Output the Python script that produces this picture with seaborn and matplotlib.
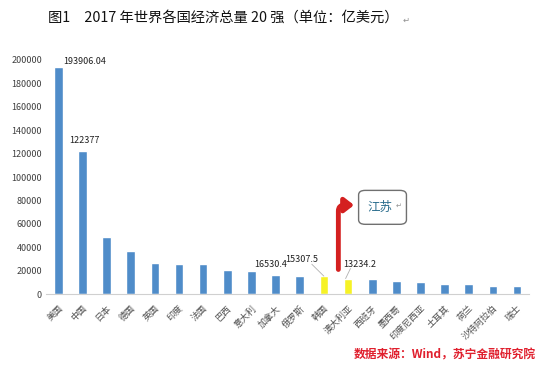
import seaborn as sns
import pandas as pd
import matplotlib.pyplot as plt
from matplotlib.patches import FancyBboxPatch

countries = ['美国', '中国', '日本', '德国', '英国', '印度', '法国', '巴西', '意大利', '加拿大',
             '俄罗斯', '韩国', '澳大利亚', '西班牙', '墨西哥', '印度尼西亚', '土耳其', '荷兰',
             '沙特阿拉伯', '瑞士']
gdp = [193906.04, 122377, 48721, 36774, 26224, 25975, 25825, 20555, 19348, 16530.4,
       15775, 15307.5, 13234.2, 13111, 11499, 10155, 8511, 8262, 6838, 6788]
highlight = ['韩国', '澳大利亚']
yticks = list(range(0, 200001, 20000))

sns.set_theme(style='white')
plt.rcParams['font.family'] = ['Noto Sans CJK SC', 'DejaVu Sans']

table = pd.DataFrame({'country': countries, 'gdp': gdp})
palette = {c: ('#F6F226' if c in highlight else '#4F8CC9') for c in countries}

fig = plt.figure(figsize=(5.5, 3.77), dpi=100)
ax = fig.add_axes([0.084, 0.22, 0.878, 0.621])
sns.barplot(data=table, x='country', y='gdp', hue='country', palette=palette,
            width=0.36, legend=False, saturation=1, ax=ax)

ax.set_ylim(0, 200000)
ax.set_xlim(-0.5, len(countries) - 0.5)
ax.set_yticks(yticks)
ax.set_yticklabels([str(v) for v in yticks], fontsize=6.5, color='#404040')
ax.set_xticks(range(len(countries)))
ax.set_xticklabels(countries, rotation=45, ha='right', va='top', rotation_mode='anchor',
                   fontsize=6.5, color='#505050')
ax.tick_params(axis='y', length=0, pad=3)
ax.tick_params(axis='x', length=0, pad=7)
ax.set_xlabel('')
ax.set_ylabel('')
for s in ['top', 'right', 'left']:
    ax.spines[s].set_visible(False)
ax.spines['bottom'].set_color('#d0d0d0')
ax.spines['bottom'].set_linewidth(0.8)

# value labels
lab = dict(fontsize=6.5, color='#202020')
ax.text(0.2, gdp[0] + 800, '193906.04', ha='left', va='bottom', **lab)
ax.text(1.1, gdp[1] + 5000, '122377', ha='center', va='bottom', **lab)
ax.text(8.8, gdp[9] + 5000, '16530.4', ha='center', va='bottom', **lab)
ax.text(10.1, 26000, '15307.5', ha='center', va='bottom', **lab)
ax.text(12.5, 21500, '13234.2', ha='center', va='bottom', **lab)
ax.plot([10.5, 11.0], [25500, gdp[11]], color='#b0b0b0', lw=0.6)
ax.plot([12.1, 11.9], [21800, gdp[12]], color='#b0b0b0', lw=0.6)

# red arrow to text box
ax.annotate('', xy=(12.25, 76000), xytext=(11.6, 21000),
            arrowprops=dict(arrowstyle='-|>,head_length=0.45,head_width=0.35', color='#D42020',
                            lw=3.5, connectionstyle='angle,angleA=90,angleB=0,rad=6',
                            shrinkA=0, shrinkB=0))
box = FancyBboxPatch((0.652, 0.405), 0.087, 0.09, transform=fig.transFigure,
                     boxstyle='round,pad=0,rounding_size=0.012', fc='white',
                     ec='#707070', lw=1.0)
fig.patches.append(box)
fig.text(0.69, 0.449, '江苏', fontsize=9, color='#2C6E8E', ha='center', va='center')
fig.text(0.724, 0.455, '↵', fontsize=5, color='#909090', ha='center', va='center')

fig.text(0.088, 0.952, '图1　2017 年世界各国经济总量 20 强（单位：亿美元）', fontsize=10.3,
         color='#111111', ha='left', va='center')
fig.text(0.732, 0.946, '↵', fontsize=6, color='#909090', ha='left', va='center')

fig.text(0.975, 0.058, '数据来源：Wind，苏宁金融研究院', fontsize=8.5, color='#E0202E',
         fontweight='bold', style='italic', ha='right', va='center')

plt.savefig('out.png', dpi=100)
